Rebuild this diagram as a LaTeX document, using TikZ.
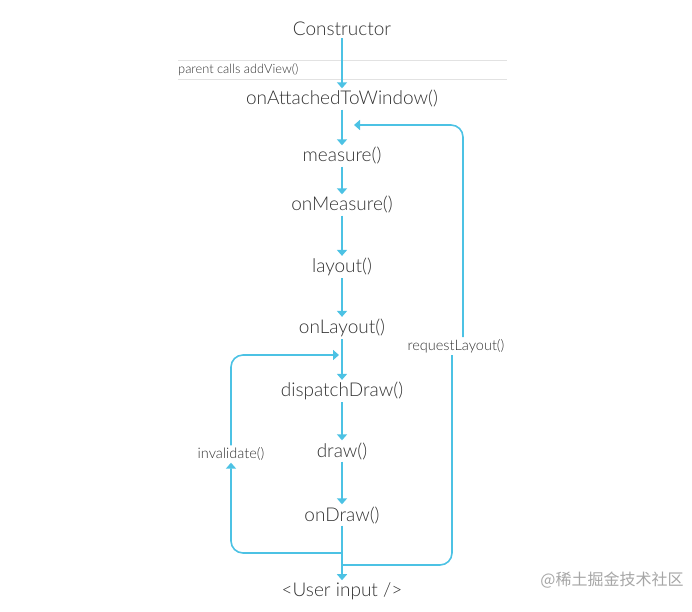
\documentclass[tikz,border=0pt]{standalone}
\usepackage{fontspec}
\setmainfont{Lato Light}
\newfontfamily\cjk{Noto Sans CJK SC}
\usetikzlibrary{arrows.meta}
\definecolor{flow}{HTML}{4CC2E4}
\definecolor{rule}{HTML}{E2E2E2}
\definecolor{ink}{HTML}{333333}

\begin{document}
\begin{tikzpicture}[x=1pt,y=-1pt,
    call/.style={font=\fontsize{19}{21}\selectfont,text=ink,inner sep=2pt},
    note/.style={font=\fontsize{14.5}{16}\selectfont,text=ink,inner sep=2pt},
    flowline/.style={draw=flow,line width=1.6pt},
    flowarrow/.style={flowline,-{Triangle[width=10pt,length=6pt]}}]
    \useasboundingbox (0,0) rectangle (692,611);

    % parent calls addView() band
    \draw[rule,line width=0.8pt] (178,60) -- (507,60);
    \draw[rule,line width=0.8pt] (178,79) -- (507,79);
    \node[note,font=\fontsize{12.8}{14}\selectfont,anchor=west] (addview) at (176,70) {parent calls addView()};

    \node[call] (ctor) at (342,29) {Constructor};
    \node[call] (attach) at (342,99) {onAttachedToWindow()};
    \node[call] (measure) at (342,156) {measure()};
    \node[call] (onmeasure) at (342,205) {onMeasure()};
    \node[call] (layout) at (342,267) {layout()};
    \node[call] (onlayout) at (342,328) {onLayout()};
    \node[call] (dispatch) at (342,391) {dispatchDraw()};
    \node[call] (draw) at (342,451) {draw()};
    \node[call] (ondraw) at (342,515) {onDraw()};
    \node[call] (user) at (342,591) {<User input />};

    \node[note] (request) at (456,346) {requestLayout()};
    \node[note] (invalidate) at (231,454) {invalidate()};

    \node[text=black!35,font=\cjk\fontsize{16}{18}\selectfont] (mark) at (612,580) {@稀土掘金技术社区};

    \coordinate (lfork) at (342,553);
    \coordinate (rfork) at (342,565);
    \coordinate (ljoin) at (339,355);
    \coordinate (rjoin) at (354,125);

    % main chain
    \draw[flowarrow] (ctor) -- (attach);
    \draw[flowarrow] (attach) -- (measure);
    \draw[flowarrow] (measure) -- (onmeasure);
    \draw[flowarrow] (onmeasure) -- (layout);
    \draw[flowarrow] (layout) -- (onlayout);
    \draw[flowarrow] (onlayout) -- (dispatch);
    \draw[flowarrow] (dispatch) -- (draw);
    \draw[flowarrow] (draw) -- (ondraw);
    \draw[flowarrow] (ondraw) -- (user);

    % invalidate loop
    \draw[flowarrow,rounded corners=12pt] (lfork) -| (invalidate.south);
    \draw[flowarrow,rounded corners=12pt] (invalidate.north) |- (ljoin);

    % requestLayout loop
    \draw[flowline,rounded corners=12pt] (rfork) -| ([xshift=-4pt]request.south);
    \draw[flowarrow,rounded corners=12pt] ([xshift=7pt]request.north) |- (rjoin);
\end{tikzpicture}
\end{document}
